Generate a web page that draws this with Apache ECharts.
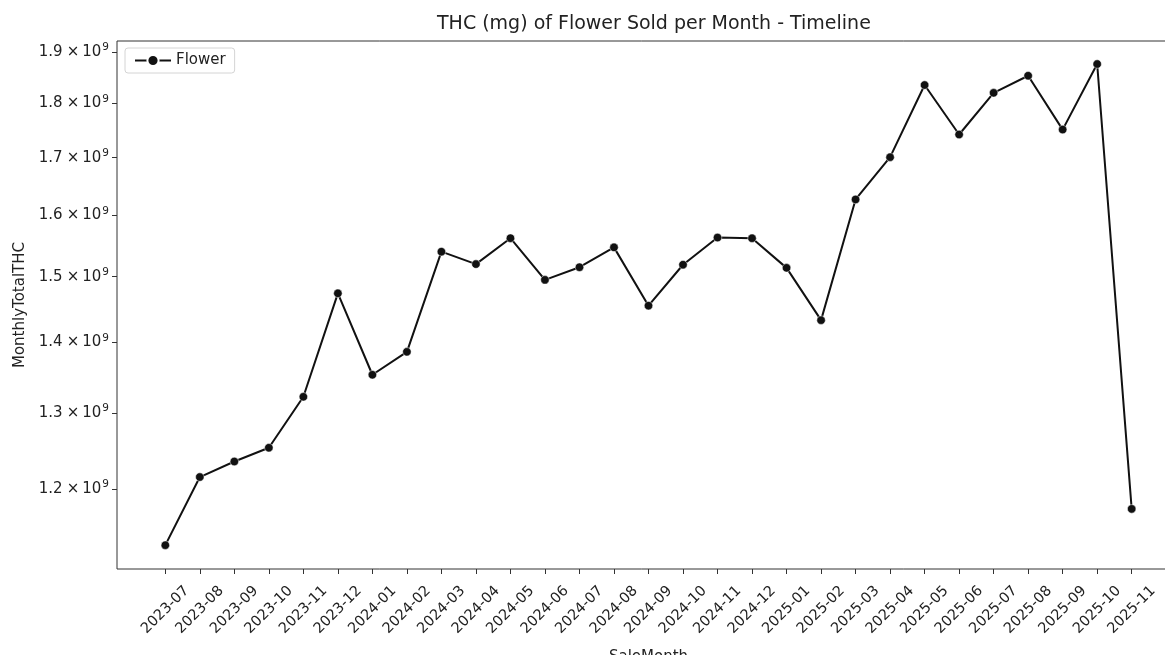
<!DOCTYPE html>
<html>
<head>
<meta charset="utf-8">
<script src="https://cdn.jsdelivr.net/npm/echarts@6/dist/echarts.min.js"></script>
<style>
  html, body { margin: 0; padding: 0; background: #fff; }
  #chart { width: 1165px; height: 655px; }
</style>
</head>
<body>
<div id="chart"></div>
<script>
const months = ['2023-07','2023-08','2023-09','2023-10','2023-11','2023-12',
  '2024-01','2024-02','2024-03','2024-04','2024-05','2024-06','2024-07','2024-08',
  '2024-09','2024-10','2024-11','2024-12','2025-01','2025-02','2025-03','2025-04',
  '2025-05','2025-06','2025-07','2025-08','2025-09','2025-10','2025-11'];
const thcValues = [1.131e9, 1.215e9, 1.235e9, 1.253e9, 1.322e9, 1.474e9,
  1.353e9, 1.386e9, 1.540e9, 1.520e9, 1.562e9, 1.495e9, 1.515e9, 1.547e9,
  1.455e9, 1.519e9, 1.563e9, 1.562e9, 1.514e9, 1.433e9, 1.627e9, 1.701e9,
  1.835e9, 1.742e9, 1.820e9, 1.853e9, 1.751e9, 1.876e9, 1.175e9];
const yTicks = [1.2e9, 1.3e9, 1.4e9, 1.5e9, 1.6e9, 1.7e9, 1.8e9, 1.9e9];
const seriesName = 'Flower';

const FONT = 'DejaVu Sans';
const TXT = '#222';
const xIdx = months.map((m, i) => i);

const chart = echarts.init(document.getElementById('chart'), null, { renderer: 'canvas' });
chart.setOption({
  backgroundColor: '#fff',
  animation: false,
  title: {
    text: 'THC (mg) of Flower Sold per Month - Timeline',
    left: 432, top: 10,
    textStyle: { fontFamily: FONT, fontSize: 19, fontWeight: 'normal', color: TXT }
  },
  legend: {
    left: 125, top: 48,
    data: [seriesName],
    itemWidth: 36, itemHeight: 14, itemGap: 5,
    padding: [5, 9],
    borderColor: '#d4d4d4', borderWidth: 1, borderRadius: 3,
    backgroundColor: '#fff',
    textStyle: { fontFamily: FONT, fontSize: 15, color: TXT }
  },
  grid: {
    left: 117, right: -15, top: 41, bottom: 86,
    outerBoundsMode: 'none',
    containLabel: false,
    show: true, borderColor: '#333', borderWidth: 1, backgroundColor: '#fff'
  },
  xAxis: {
    type: 'value',
    min: -1.4, max: 29.4,
    name: 'SaleMonth',
    nameLocation: 'middle', nameGap: 81,
    nameTextStyle: { fontFamily: FONT, fontSize: 15, color: TXT },
    axisLine: { show: false, onZero: false },
    splitLine: { show: false },
    axisTick: { show: true, inside: false, length: 5, customValues: xIdx, lineStyle: { color: '#333' } },
    axisLabel: {
      customValues: xIdx,
      rotate: 45, align: 'center', verticalAlign: 'middle', margin: 41,
      fontFamily: FONT, fontSize: 14.5, color: TXT,
      formatter: v => months[Math.round(v)]
    }
  },
  yAxis: {
    type: 'log', logBase: 10,
    min: 1.103e9, max: 1.922e9,
    name: 'MonthlyTotalTHC',
    nameLocation: 'middle', nameGap: 88, nameRotate: 90,
    nameTextStyle: { fontFamily: FONT, fontSize: 15, color: TXT },
    axisLine: { show: false, onZero: false },
    splitLine: { show: false },
    minorTick: { show: false },
    axisTick: { show: true, inside: false, length: 5, customValues: yTicks, lineStyle: { color: '#333' } },
    axisLabel: {
      customValues: yTicks,
      margin: 8,
      formatter: v => '{m|' + (v / 1e9).toFixed(1) + '}{x|×}{m|10}{s|9}',
      rich: {
        m: { fontFamily: FONT, fontSize: 15, color: TXT, lineHeight: 20 },
        x: { fontFamily: FONT, fontSize: 15, color: TXT, lineHeight: 20, padding: [0, 3, 0, 4] },
        s: { fontFamily: FONT, fontSize: 10.5, color: TXT, verticalAlign: 'top', lineHeight: 20, padding: [0, 0, 0, 1] }
      }
    }
  },
  series: [{
    name: seriesName,
    type: 'line',
    data: thcValues.map((v, i) => [i, v]),
    symbol: 'circle', symbolSize: 8.5,
    lineStyle: { color: '#111', width: 2 },
    itemStyle: { color: '#111', borderColor: '#fff', borderWidth: 0.5 },
    emphasis: { disabled: true }
  }]
});
</script>
</body>
</html>
